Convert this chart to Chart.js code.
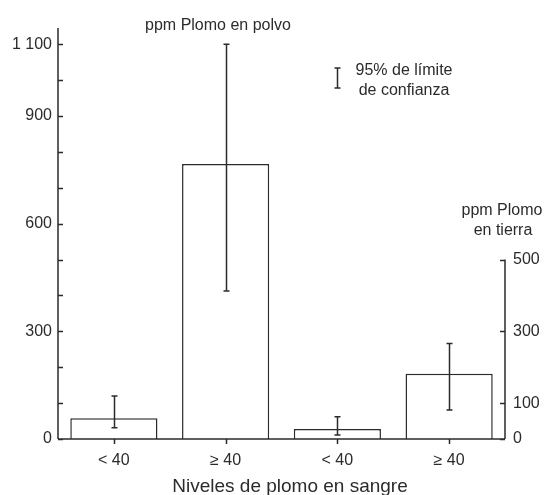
<!DOCTYPE html>
<html>
<head>
<meta charset="utf-8">
<script src="https://cdn.jsdelivr.net/npm/chart.js@4.4.1/dist/chart.umd.min.js"></script>
<style>
  html, body { margin: 0; padding: 0; background: #fff; }
  #wrap { width: 545px; height: 495px; position: relative; }
</style>
</head>
<body>
<div id="wrap"><canvas id="plomo"></canvas></div>
<script>
// categorías del eje x (dos para polvo, dos para tierra)
const categorias = ['< 40', '\u2265 40', '< 40', '\u2265 40'];

// ppm de plomo en polvo (eje izquierdo): media e intervalo de confianza 95%
const polvoMedia = [58, 766, null, null];
const polvoBajo  = [31, 412, null, null];
const polvoAlto  = [120, 1100, null, null];

// ppm de plomo en tierra (eje derecho)
const tierraMedia = [null, null, 28, 182];
const tierraBajo  = [null, null, 11, 81];
const tierraAlto  = [null, null, 62, 266];

// marcas de los ejes
const ticksIzq = [0, 100, 200, 300, 400, 500, 600, 700, 800, 900, 1000, 1100];
const etiquetasIzq = [0, 300, 600, 900, 1100];
const ticksDer = [0, 100, 300, 500];
const maxEje = 1145;

const TINTA = '#2b2b2b';

// usa la variante estrecha si está instalada
function hayFuente(nombre) {
    const c = document.createElement('canvas').getContext('2d');
    const txt = 'ppm Plomo en polvo 1100';
    c.font = '20px monospace';
    const a = c.measureText(txt).width;
    c.font = '20px "' + nombre + '", monospace';
    return c.measureText(txt).width !== a;
}
const ESTRECHA = hayFuente('Liberation Sans Narrow');
const FUENTE = ESTRECHA ? '"Liberation Sans Narrow", sans-serif' : '"Liberation Sans", Arial, sans-serif';
const TAM = ESTRECHA ? 19 : 16;
const TAM_TITULO = ESTRECHA ? 23 : 19;

function fmt(v) {
    return v >= 1000 ? String(v).replace(/(\d)(\d{3})$/, '$1 $2') : String(v);
}

const errores = {
    id: 'errores',
    afterDatasetsDraw(chart) {
        const ctx = chart.ctx;
        const rangos = [[polvoBajo, polvoAlto, 'y'], [tierraBajo, tierraAlto, 'y2']];
        ctx.save();
        ctx.strokeStyle = TINTA;
        ctx.lineWidth = 1.5;
        rangos.forEach(([bajo, alto, eje], d) => {
            const meta = chart.getDatasetMeta(d);
            const s = chart.scales[eje];
            meta.data.forEach((bar, i) => {
                if (bajo[i] == null) return;
                const x = Math.round(bar.x) + 0.5;
                const y1 = s.getPixelForValue(bajo[i]);
                const y2 = s.getPixelForValue(alto[i]);
                ctx.beginPath();
                ctx.moveTo(x, y1); ctx.lineTo(x, y2);
                ctx.moveTo(x - 3, y1); ctx.lineTo(x + 3, y1);
                ctx.moveTo(x - 3, y2); ctx.lineTo(x + 3, y2);
                ctx.stroke();
            });
        });
        ctx.restore();
    }
};

const ejes = {
    id: 'ejes',
    afterDraw(chart) {
        const ctx = chart.ctx;
        const a = chart.chartArea;
        const sy = chart.scales.y, sy2 = chart.scales.y2, sx = chart.scales.x;
        ctx.save();
        ctx.strokeStyle = TINTA;
        ctx.lineWidth = 1.5;
        ctx.beginPath();
        // eje izquierdo
        ctx.moveTo(a.left, a.top); ctx.lineTo(a.left, a.bottom);
        ticksIzq.forEach(v => {
            const y = Math.round(sy.getPixelForValue(v)) + 0.5;
            ctx.moveTo(a.left, y); ctx.lineTo(a.left + 5, y);
        });
        // eje derecho (solo hasta 500)
        const topDer = sy2.getPixelForValue(ticksDer[ticksDer.length - 1]);
        ctx.moveTo(a.right, topDer); ctx.lineTo(a.right, a.bottom);
        ticksDer.forEach(v => {
            const y = Math.round(sy2.getPixelForValue(v)) + 0.5;
            ctx.moveTo(a.right, y); ctx.lineTo(a.right - 5, y);
        });
        // eje x
        ctx.moveTo(a.left, a.bottom); ctx.lineTo(a.right, a.bottom);
        categorias.forEach((c, i) => {
            const x = Math.round(sx.getPixelForValue(i)) + 0.5;
            ctx.moveTo(x, a.bottom); ctx.lineTo(x, a.bottom + 5);
        });
        ctx.stroke();

        // leyenda del intervalo
        ctx.beginPath();
        ctx.moveTo(337.5, 68); ctx.lineTo(337.5, 88);
        ctx.moveTo(334.5, 68); ctx.lineTo(340.5, 68);
        ctx.moveTo(334.5, 88); ctx.lineTo(340.5, 88);
        ctx.stroke();

        ctx.fillStyle = TINTA;
        ctx.textAlign = 'center';
        ctx.textBaseline = 'alphabetic';
        ctx.font = TAM + 'px ' + FUENTE;
        ctx.fillText('ppm Plomo en polvo', 218, 30);
        ctx.fillText('95% de l\u00edmite', 404, 75);
        ctx.fillText('de confianza', 404, 95);
        ctx.fillText('ppm Plomo', 502, 215);
        ctx.fillText('en tierra', 503, 235);
        ctx.font = TAM_TITULO + 'px ' + FUENTE;
        ctx.fillText('Niveles de plomo en sangre', 290, 492);
        ctx.restore();
    }
};

new Chart(document.getElementById('plomo'), {
    type: 'bar',
    data: {
        labels: categorias,
        datasets: [
            { data: polvoMedia, yAxisID: 'y' },
            { data: tierraMedia, yAxisID: 'y2' }
        ].map(d => Object.assign(d, {
            backgroundColor: '#ffffff',
            borderColor: TINTA,
            borderWidth: 1.5,
            categoryPercentage: 1,
            barPercentage: 0.78,
            grouped: false
        }))
    },
    options: {
        responsive: true,
        maintainAspectRatio: false,
        animation: false,
        layout: { padding: { top: 28, right: 0, left: 0, bottom: 0 } },
        plugins: { legend: { display: false }, tooltip: { enabled: false } },
        scales: {
            x: {
                grid: { display: false },
                border: { display: false },
                ticks: { color: TINTA, font: { family: FUENTE, size: TAM }, padding: ESTRECHA ? 3 : 4 },
                afterFit: s => { s.height = 56; }
            },
            y: {
                position: 'left',
                min: 0, max: maxEje,
                grid: { display: false, drawTicks: false },
                border: { display: false },
                afterBuildTicks: s => { s.ticks = ticksIzq.map(v => ({ value: v })); },
                ticks: {
                    color: TINTA, font: { family: FUENTE, size: TAM }, padding: 6,
                    autoSkip: false,
                    callback: v => etiquetasIzq.includes(v) ? fmt(v) : ''
                },
                afterFit: s => { s.width = 58; }
            },
            y2: {
                position: 'right',
                min: 0, max: maxEje,
                grid: { display: false, drawTicks: false },
                border: { display: false },
                afterBuildTicks: s => { s.ticks = ticksDer.map(v => ({ value: v })); },
                ticks: {
                    color: TINTA, font: { family: FUENTE, size: TAM }, padding: 8,
                    autoSkip: false,
                    callback: v => fmt(v)
                },
                afterFit: s => { s.width = 40; }
            }
        }
    },
    plugins: [errores, ejes]
});
</script>
</body>
</html>
